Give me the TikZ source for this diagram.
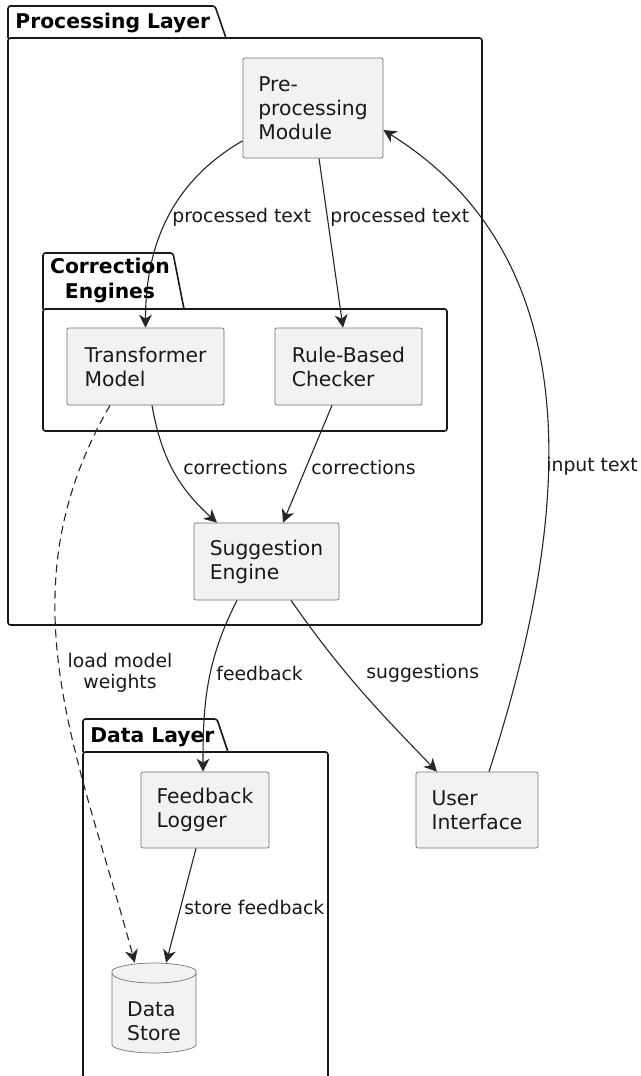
\documentclass[tikz,border=0pt]{standalone}
\usepackage{fontspec}
\setmainfont{DejaVu Sans}
\usetikzlibrary{arrows.meta}
\newcommand{\compfont}{\fontsize{20.3}{24}\selectfont}
\newcommand{\edgefont}{\fontsize{18.8}{21.5}\selectfont}
\newcommand{\pkgfont}{\fontsize{20.3}{25}\selectfont\bfseries}

\begin{document}
\begin{tikzpicture}[x=1pt, y=-1pt, thick,
  main/.style = {draw=black!55, line width=0.7pt, fill=black!5, rounded corners=2pt, align=left, font=\compfont, text=black!90, inner sep=0pt},
  pkg/.style = {draw=black!90, line width=1.6pt, fill=white, rounded corners=2.5pt},
  ttl/.style = {font=\pkgfont, text=black, inner sep=0pt},
  lbl/.style = {font=\edgefont, text=black!90, inner sep=0pt, anchor=west},
  conn/.style = {draw=black!85, line width=1.1pt, -{Stealth[length=13pt, width=13pt, inset=4pt]}}]

  \useasboundingbox (0,0) rectangle (640,1076);

  \draw[pkg] (8,38) -- (8,6) -- (215,6) -- (226,38);
  \draw[pkg] (8,38) rectangle (482,625);
  \node[ttl, anchor=west] (p1) at (15,23) {Processing Layer};

  \draw[pkg] (43,309) -- (43,253) -- (173,253) -- (184,309);
  \draw[pkg] (43,309) rectangle (447,431);
  \node[ttl, align=center] (p2) at (110,280) {Correction\\Engines};

  \draw[pkg] (83,752) -- (83,719) -- (217,719) -- (228,752);
  \draw[pkg] (83,1090) -- (83,752) -- (328,752) -- (328,1090);
  \node[ttl, anchor=west] (p3) at (90,737) {Data Layer};

  \node[main, minimum width=140, minimum height=100] (1) at (313,108) {Pre-\\processing\\Module};
  \node[main, minimum width=157, minimum height=77] (2) at (145.5,366.5) {Transformer\\Model};
  \node[main, minimum width=147, minimum height=77] (3) at (348.5,366.5) {Rule-Based\\Checker};
  \node[main, minimum width=145, minimum height=77] (4) at (266.5,561.5) {Suggestion\\Engine};
  \node[main, minimum width=128, minimum height=76] (5) at (205,810) {Feedback\\Logger};
  \node[main, minimum width=122, minimum height=76] (6) at (477,810) {User\\Interface};

  \path[main] (112,973) -- (112,1043) arc[start angle=180, end angle=360, x radius=42pt, y radius=10pt]
    -- (196,973) arc[start angle=0, end angle=180, x radius=42pt, y radius=10pt] -- cycle;
  \draw[black!55, line width=0.7pt] (112,973) arc[start angle=180, end angle=360, x radius=42pt, y radius=10pt];
  \node[main, draw=none, fill=none, minimum width=84, minimum height=90,
    label={[main, draw=none, fill=none, yshift=-13pt]center:{Data\\Store}}] (7) at (154,1008) {};

  \draw[conn] (1.205) to[out=210, in=90] (2.north);
  \draw[conn] ([xshift=6pt]1.south) -- ([xshift=-5.5pt]3.north);
  \draw[conn] ([xshift=6.5pt]2.south) to[out=-80, in=138] ([xshift=-49.5pt]4.north);
  \draw[conn] ([xshift=-16.5pt]3.south) -- ([xshift=16.5pt]4.north);
  \draw[conn] ([xshift=-29.5pt]4.south) to[out=-117, in=90] ([xshift=-2pt]5.north);
  \draw[conn] ([xshift=24.5pt]4.south) to[out=-55, in=134] ([xshift=-40pt]6.north);
  \draw[conn] ([xshift=12pt]6.north) to[out=72, in=-32] ([yshift=-22pt]1.east);
  \draw[conn, dashed, dash pattern=on 8pt off 5pt] ([xshift=-35.5pt]2.south) to[out=-120, in=105] (7.113);
  \draw[conn] ([xshift=-9pt]5.south) -- (7.75);

  \node[lbl] (l1) at (172,217) {processed text};
  \node[lbl] (l2) at (330,217) {processed text};
  \node[lbl] (l3) at (183,467) {corrections};
  \node[lbl] (l4) at (311,467) {corrections};
  \node[lbl] (l5) at (546,466) {input text};
  \node[lbl, anchor=center, align=center] (l6) at (120,673) {load model\\weights};
  \node[lbl] (l7) at (216,673) {feedback};
  \node[lbl] (l8) at (366,673) {suggestions};
  \node[lbl] (l9) at (184,907) {store feedback};

\end{tikzpicture}
\end{document}
